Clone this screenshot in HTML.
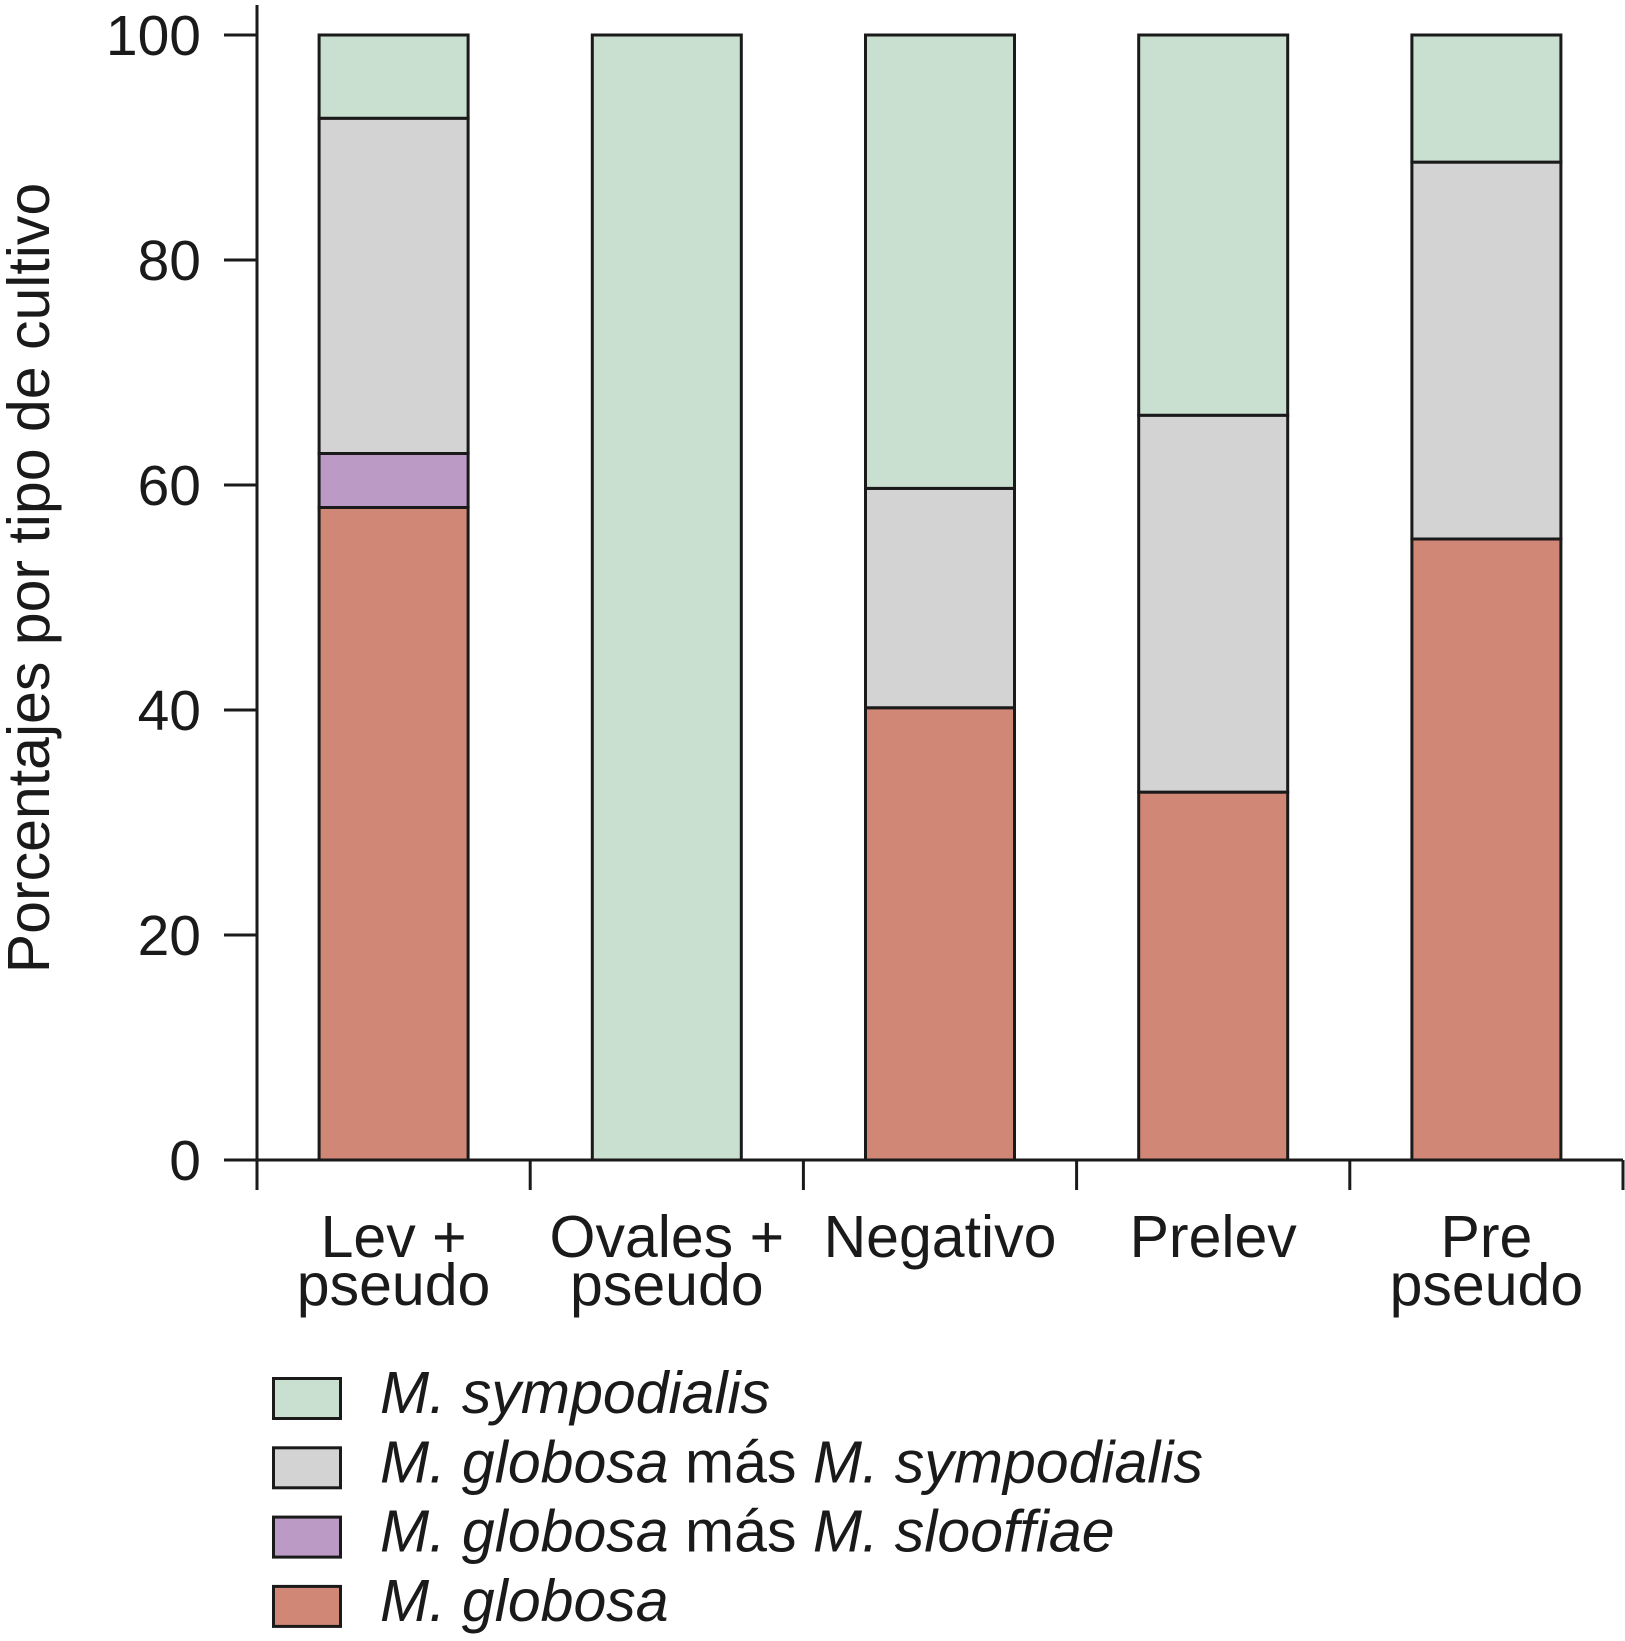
<!DOCTYPE html>
<html><head><meta charset="utf-8"><style>
html,body{margin:0;padding:0;background:#fff;}
svg{display:block;font-family:"Liberation Sans",Arial,sans-serif;}
</style></head><body>
<svg id="chart" width="1625" height="1641" viewBox="0 0 1625 1641" xmlns="http://www.w3.org/2000/svg"></svg>
<script>
const categories = [["Lev +","pseudo"],["Ovales +","pseudo"],["Negativo"],["Prelev"],["Pre","pseudo"]];
const globosa = [58, 0, 40.2, 32.7, 55.2];
const globosaSlooffiae = [4.8, 0, 0, 0, 0];
const globosaSympodialis = [29.8, 0, 19.5, 33.5, 33.5];
const sympodialis = [7.4, 100, 40.3, 33.8, 11.3];
const yTicks = [0, 20, 40, 60, 80, 100];
const seriesNames = ["M. globosa","M. globosa más M. slooffiae","M. globosa más M. sympodialis","M. sympodialis"];

const svg = document.getElementById('chart');
const NS = 'http://www.w3.org/2000/svg';
const x0 = 257, x1 = 1623, yBase = 1160, yTop = 35;
const band = (x1 - x0) / categories.length, barW = 149;
const y = v => yBase - (yBase - yTop) * v / 100;
const xc = i => x0 + band * (i + 0.5);
function mk(tag, attrs, parent){const e=document.createElementNS(NS,tag);for(const k in attrs)e.setAttribute(k,attrs[k]);(parent||svg).appendChild(e);return e;}

const colors = ["#d08775","#bb9bc6","#d3d3d3","#c9dfcf"];
const series = [globosa, globosaSlooffiae, globosaSympodialis, sympodialis];
const keys = ["globosa","slooffiae","globosa-sympodialis","sympodialis"];

categories.forEach((c,i)=>{
  let acc = 0;
  series.forEach((s,j)=>{
    const v = s[i]; if(v<=0) return;
    const r = mk('rect',{x:xc(i)-barW/2,y:y(acc+v),width:barW,height:y(acc)-y(acc+v),fill:colors[j],stroke:'#1a1a1a','stroke-width':3});
    
    
    acc += v;
  });
});

const ya = mk('line',{x1:x0,y1:5,x2:x0,y2:yBase+1.5,stroke:'#1a1a1a','stroke-width':3});


const xa = mk('line',{x1:x0-1.5,y1:yBase,x2:x1,y2:yBase,stroke:'#1a1a1a','stroke-width':3});



yTicks.forEach(t=>{
  const l = mk('line',{x1:224,y1:y(t),x2:x0,y2:y(t),stroke:'#1a1a1a','stroke-width':3});
  
  
  const tx = mk('text',{x:201,y:y(t)+20,'text-anchor':'end','font-size':57,fill:'#1a1a1a'});
  tx.textContent = t;
  
  
});
for(let i=0;i<=categories.length;i++){
  const l = mk('line',{x1:x0+band*i,y1:yBase,x2:x0+band*i,y2:1190,stroke:'#1a1a1a','stroke-width':3});
  
  
}
categories.forEach((c,i)=>{
  c.forEach((line,k)=>{
    const tx = mk('text',{x:xc(i),y:1257+k*48,'text-anchor':'middle','font-size':59,fill:'#1a1a1a'});
    tx.textContent = line;
    
    
  });
});

const yt = mk('text',{x:0,y:0,'text-anchor':'middle','font-size':59,fill:'#1a1a1a',transform:'translate(49,578) rotate(-90)'});
yt.textContent = 'Porcentajes por tipo de cultivo';



const legend = [
  {c:colors[3], parts:[["M. sympodialis",true]]},
  {c:colors[2], parts:[["M. globosa",true],[" más ",false],["M. sympodialis",true]]},
  {c:colors[1], parts:[["M. globosa",true],[" más ",false],["M. slooffiae",true]]},
  {c:colors[0], parts:[["M. globosa",true]]}
];
legend.forEach((e,i)=>{
  const g = mk('g',{});
  
  
  const top = 1377 + i*69.3;
  mk('rect',{x:273.5,y:top+1.5,width:67,height:40,fill:e.c,stroke:'#1a1a1a','stroke-width':3},g);
  const t = mk('text',{x:380,y:top+36,'font-size':59,fill:'#1a1a1a'},g);
  e.parts.forEach(p=>{const s=mk('tspan',{},t);if(p[1])s.setAttribute('font-style','italic');s.textContent=p[0];});
});
</script>
</body></html>
